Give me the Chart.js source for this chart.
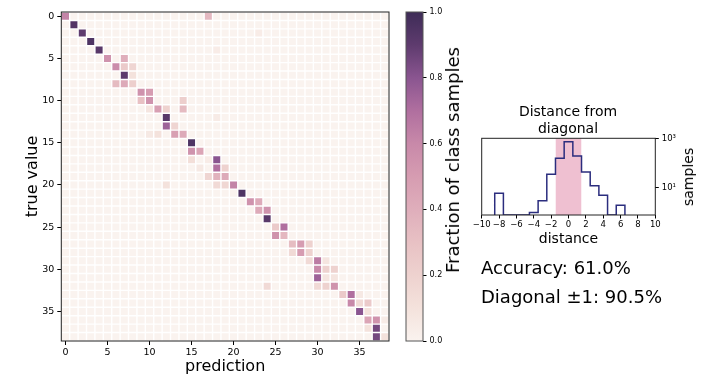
<!DOCTYPE html>
<html>
<head>
<meta charset="utf-8">
<script src="https://cdn.jsdelivr.net/npm/chart.js@4/dist/chart.umd.min.js"></script>
<style>
  html, body { margin: 0; padding: 0; background: #fff; }
  #fig { position: relative; width: 706px; height: 385px; overflow: hidden; font-family: "DejaVu Sans", sans-serif; color: #000; }
  #fig canvas { position: absolute; }
  .lbl { position: absolute; white-space: nowrap; line-height: 1; }
  .rot { transform: translate(-50%, -50%) rotate(-90deg); }
</style>
</head>
<body>
<div id="fig">
  <canvas id="heat" width="400" height="385" style="left:0;top:0"></canvas>
  <canvas id="cbar" width="65" height="385" style="left:395px;top:0"></canvas>
  <canvas id="hist" width="266" height="150" style="left:440px;top:100px"></canvas>
  <div class="lbl rot" style="left:453px;top:160px;font-size:18px">Fraction of class samples</div>
  <div class="lbl" style="left:568px;top:103px;font-size:14px;line-height:16.6px;text-align:center;transform:translateX(-50%)">Distance from<br>diagonal</div>
  <div class="lbl rot" style="left:688px;top:177px;font-size:14px">samples</div>
  <div id="acc" class="lbl" style="left:481px;top:259px;font-size:18px"></div>
  <div id="diag" class="lbl" style="left:481px;top:288px;font-size:18px"></div>
</div>
<script>
// ---- data ----
const nClasses = 39;
const axisTicks = [0, 5, 10, 15, 20, 25, 30, 35];
// [true value, prediction, fraction of class samples] - every other cell is 0
const cells = [
  [0, 0, 0.62], [0, 17, 0.35],
  [1, 1, 0.93], [2, 2, 0.9], [2, 23, 0.04], [3, 3, 0.95], [4, 4, 0.92], [4, 18, 0.04],
  [5, 5, 0.55], [5, 7, 0.4],
  [6, 6, 0.58], [6, 7, 0.25], [6, 8, 0.18],
  [7, 7, 0.9], [7, 8, 0.1],
  [8, 6, 0.33], [8, 7, 0.42], [8, 8, 0.22],
  [9, 9, 0.55], [9, 10, 0.5],
  [10, 9, 0.3], [10, 10, 0.55], [10, 14, 0.22],
  [11, 10, 0.08], [11, 11, 0.48], [11, 12, 0.2], [11, 14, 0.33],
  [12, 12, 0.92], [12, 18, 0.05],
  [13, 12, 0.75], [13, 13, 0.18],
  [14, 10, 0.06], [14, 11, 0.1], [14, 13, 0.48], [14, 14, 0.42],
  [15, 15, 0.95],
  [16, 15, 0.55], [16, 16, 0.45],
  [17, 15, 0.12], [17, 17, 0.04], [17, 18, 0.8],
  [18, 16, 0.06], [18, 18, 0.7], [18, 19, 0.2],
  [19, 17, 0.18], [19, 18, 0.38], [19, 19, 0.42],
  [20, 12, 0.1], [20, 18, 0.15], [20, 19, 0.17], [20, 20, 0.62],
  [21, 21, 0.95],
  [22, 22, 0.55], [22, 23, 0.42],
  [23, 23, 0.42], [23, 24, 0.55],
  [24, 24, 0.92],
  [25, 25, 0.25], [25, 26, 0.7],
  [26, 25, 0.55], [26, 26, 0.35],
  [27, 27, 0.32], [27, 28, 0.5], [27, 29, 0.2],
  [28, 27, 0.15], [28, 28, 0.5], [28, 29, 0.2],
  [29, 29, 0.15], [29, 30, 0.65], [29, 31, 0.08],
  [30, 30, 0.6], [30, 31, 0.2], [30, 32, 0.2],
  [31, 30, 0.75], [31, 31, 0.08], [31, 32, 0.08],
  [32, 24, 0.15], [32, 30, 0.15], [32, 31, 0.2], [32, 32, 0.55],
  [33, 33, 0.25], [33, 34, 0.7], [33, 35, 0.06],
  [34, 34, 0.6], [34, 35, 0.15], [34, 36, 0.25],
  [35, 35, 0.8], [35, 36, 0.1],
  [36, 36, 0.45], [36, 37, 0.55], [36, 38, 0.05],
  [37, 36, 0.1], [37, 37, 0.85],
  [38, 37, 0.85], [38, 38, 0.1]
];
const cbarTicks = [0, 0.2, 0.4, 0.6, 0.8, 1.0];

const histBins = [-8, -7, -6, -5, -4, -3, -2, -1, 0, 1, 2, 3, 4, 5, 6];
const histCounts = [6, 0, 0, 0, 1, 3, 35, 155, 722, 191, 44, 12, 5, 0, 2];
const histXTicks = [-10, -8, -6, -4, -2, 0, 2, 4, 6, 8, 10];
const histYTicks = [10, 1000];
const histYRange = [0.8, 1000];
const bandRange = [-1.5, 1.5];

const accuracy = 61.0;
const diagonalAccuracy = 90.5;

// ---- colormap (light pink -> dark purple) ----
const cmapStops = [0, 0.1, 0.2, 0.3, 0.4, 0.5, 0.6, 0.7, 0.8, 0.9, 1.0];
const cmapColors = ['#faf3ef', '#f4e2dc', '#eed2cf', '#e8c1c4', '#dfaebb', '#d69cb1',
                    '#c889a9', '#b06f9f', '#8a5590', '#5e3b6e', '#3e2c57'];

function hexRgb(h) {
  return [1, 3, 5].map(i => parseInt(h.slice(i, i + 2), 16));
}
function cmap(v) {
  v = Math.max(0, Math.min(1, v));
  let i = 0;
  while (i < cmapStops.length - 2 && v > cmapStops[i + 1]) i++;
  const t = (v - cmapStops[i]) / (cmapStops[i + 1] - cmapStops[i]);
  const a = hexRgb(cmapColors[i]), b = hexRgb(cmapColors[i + 1]);
  const c = a.map((x, k) => Math.round(x + (b[k] - x) * t));
  return `rgb(${c[0]},${c[1]},${c[2]})`;
}

Chart.defaults.font.family = "'DejaVu Sans', sans-serif";
Chart.defaults.color = '#000';

const framePlugin = {
  id: 'frame',
  afterDatasetsDraw(chart, args, opts) {
    const { ctx, chartArea: a } = chart;
    ctx.save();
    ctx.strokeStyle = opts.color || '#000';
    ctx.lineWidth = opts.width || 1;
    ctx.strokeRect(a.left, a.top, a.right - a.left, a.bottom - a.top);
    ctx.restore();
  }
};

function fixSize(prop, size) {
  return axis => {
    axis[prop] = size;
    axis.paddingLeft = axis.paddingRight = axis.paddingTop = axis.paddingBottom = 0;
  };
}
function setTicks(values) {
  return axis => { axis.ticks = values.map(v => ({ value: v })); };
}
const tickGrid = { drawOnChartArea: false, drawTicks: true, tickLength: 4, color: '#000', lineWidth: 1 };

// ---- confusion matrix ----
const lookup = new Map(cells.map(([r, c, v]) => [r * nClasses + c, v]));
const matrix = [];
for (let r = 0; r < nClasses; r++) {
  for (let c = 0; c < nClasses; c++) {
    matrix.push({ x: c, y: r, v: lookup.get(r * nClasses + c) || 0 });
  }
}

new Chart(document.getElementById('heat'), {
  type: 'scatter',
  data: {
    datasets: [{
      data: matrix,
      pointStyle: 'rect',
      pointRadius: ctx => {
        const s = ctx.chart.scales.x;
        const pitch = Math.abs(s.getPixelForValue(1) - s.getPixelForValue(0));
        return (pitch - 1.4) / Math.SQRT2;
      },
      pointBackgroundColor: ctx => cmap(ctx.raw ? ctx.raw.v : 0),
      pointBorderWidth: 0
    }]
  },
  options: {
    responsive: false,
    animation: false,
    events: [],
    layout: { padding: { left: 0, top: 12, right: 11, bottom: 0 } },
    plugins: { legend: { display: false }, tooltip: { enabled: false }, frame: { color: '#222' } },
    scales: {
      x: {
        type: 'linear', min: -0.5, max: nClasses - 0.5,
        afterBuildTicks: setTicks(axisTicks),
        afterFit: fixSize('height', 44),
        ticks: { font: { size: 9.5 }, padding: 2, maxRotation: 0, autoSkip: false },
        grid: tickGrid,
        border: { display: false },
        title: { display: true, text: 'prediction', font: { size: 16 }, padding: { top: 0, bottom: 9 } }
      },
      y: {
        type: 'linear', reverse: true, min: -0.5, max: nClasses - 0.5,
        afterBuildTicks: setTicks(axisTicks),
        afterFit: fixSize('width', 61.3),
        ticks: { font: { size: 9.5 }, padding: 3, autoSkip: false },
        grid: tickGrid,
        border: { display: false },
        title: { display: true, text: 'true value', font: { size: 16 }, padding: { top: 23, bottom: 0 } }
      }
    }
  },
  plugins: [framePlugin]
});

// ---- colorbar ----
new Chart(document.getElementById('cbar'), {
  type: 'bar',
  data: {
    labels: [''],
    datasets: [{
      data: [[cbarTicks[0], cbarTicks[cbarTicks.length - 1]]],
      barPercentage: 1,
      categoryPercentage: 1,
      borderWidth: 0,
      backgroundColor: ctx => {
        const area = ctx.chart.chartArea;
        if (!area) return cmapColors[0];
        const g = ctx.chart.ctx.createLinearGradient(0, area.bottom, 0, area.top);
        cmapStops.forEach((s, i) => g.addColorStop(s, cmapColors[i]));
        return g;
      }
    }]
  },
  options: {
    responsive: false,
    animation: false,
    events: [],
    layout: { padding: { left: 11, top: 12, right: 0, bottom: 44 } },
    plugins: { legend: { display: false }, tooltip: { enabled: false }, frame: { color: '#555' } },
    scales: {
      x: { display: false },
      y: {
        position: 'right', min: 0, max: 1,
        afterBuildTicks: setTicks(cbarTicks),
        afterFit: fixSize('width', 37),
        ticks: { font: { size: 8 }, padding: 3, callback: v => v.toFixed(1) },
        grid: { ...tickGrid, tickLength: 3.5 },
        border: { display: false }
      }
    }
  },
  plugins: [framePlugin]
});

// ---- distance histogram ----
// empty bins sit on the floor of the log axis
const floor = histYRange[0];
const edges = histBins.map(b => b - 0.5).concat([histBins[histBins.length - 1] + 0.5]);
const steps = [{ x: edges[0], y: floor }]
  .concat(histCounts.map((c, i) => ({ x: edges[i + 1], y: c > 0 ? c : floor })))
  .concat([{ x: edges[edges.length - 1], y: floor }]);
const sup = { 0: '\u2070', 1: '\u00b9', 2: '\u00b2', 3: '\u00b3' };

new Chart(document.getElementById('hist'), {
  type: 'line',
  data: {
    datasets: [
      {
        data: steps,
        stepped: 'after',
        borderColor: '#2b2d7e',
        borderWidth: 1.5,
        pointRadius: 0,
        fill: false
      },
      {
        data: bandRange.map(x => ({ x, y: histYRange[1] })),
        borderWidth: 0,
        pointRadius: 0,
        backgroundColor: '#efc0d1',
        fill: 'start'
      }
    ]
  },
  options: {
    responsive: false,
    animation: false,
    events: [],
    layout: { padding: { left: 41.7, top: 38.3, right: 0, bottom: 0 } },
    plugins: { legend: { display: false }, tooltip: { enabled: false }, frame: { color: '#222' } },
    scales: {
      x: {
        type: 'linear', min: histXTicks[0], max: histXTicks[histXTicks.length - 1],
        afterBuildTicks: setTicks(histXTicks),
        afterFit: fixSize('height', 35),
        ticks: { font: { size: 8.5 }, padding: 1, maxRotation: 0, autoSkip: false,
                 callback: v => (v < 0 ? '\u2212' + Math.abs(v) : String(v)) },
        grid: { ...tickGrid, tickLength: 3.5 },
        border: { display: false },
        title: { display: true, text: 'distance', font: { size: 14 }, padding: { top: 0, bottom: 2 } }
      },
      y: {
        type: 'logarithmic', position: 'right', min: histYRange[0], max: histYRange[1],
        afterBuildTicks: setTicks(histYTicks),
        afterFit: fixSize('width', 50.7),
        ticks: { font: { size: 8.5 }, padding: 3,
                 callback: v => '10' + sup[Math.round(Math.log10(v))] },
        grid: { ...tickGrid, tickLength: 3.5 },
        border: { display: false }
      }
    }
  },
  plugins: [framePlugin]
});

document.getElementById('acc').textContent = `Accuracy: ${accuracy.toFixed(1)}%`;
document.getElementById('diag').textContent = `Diagonal \u00b11: ${diagonalAccuracy.toFixed(1)}%`;
</script>
</body>
</html>
